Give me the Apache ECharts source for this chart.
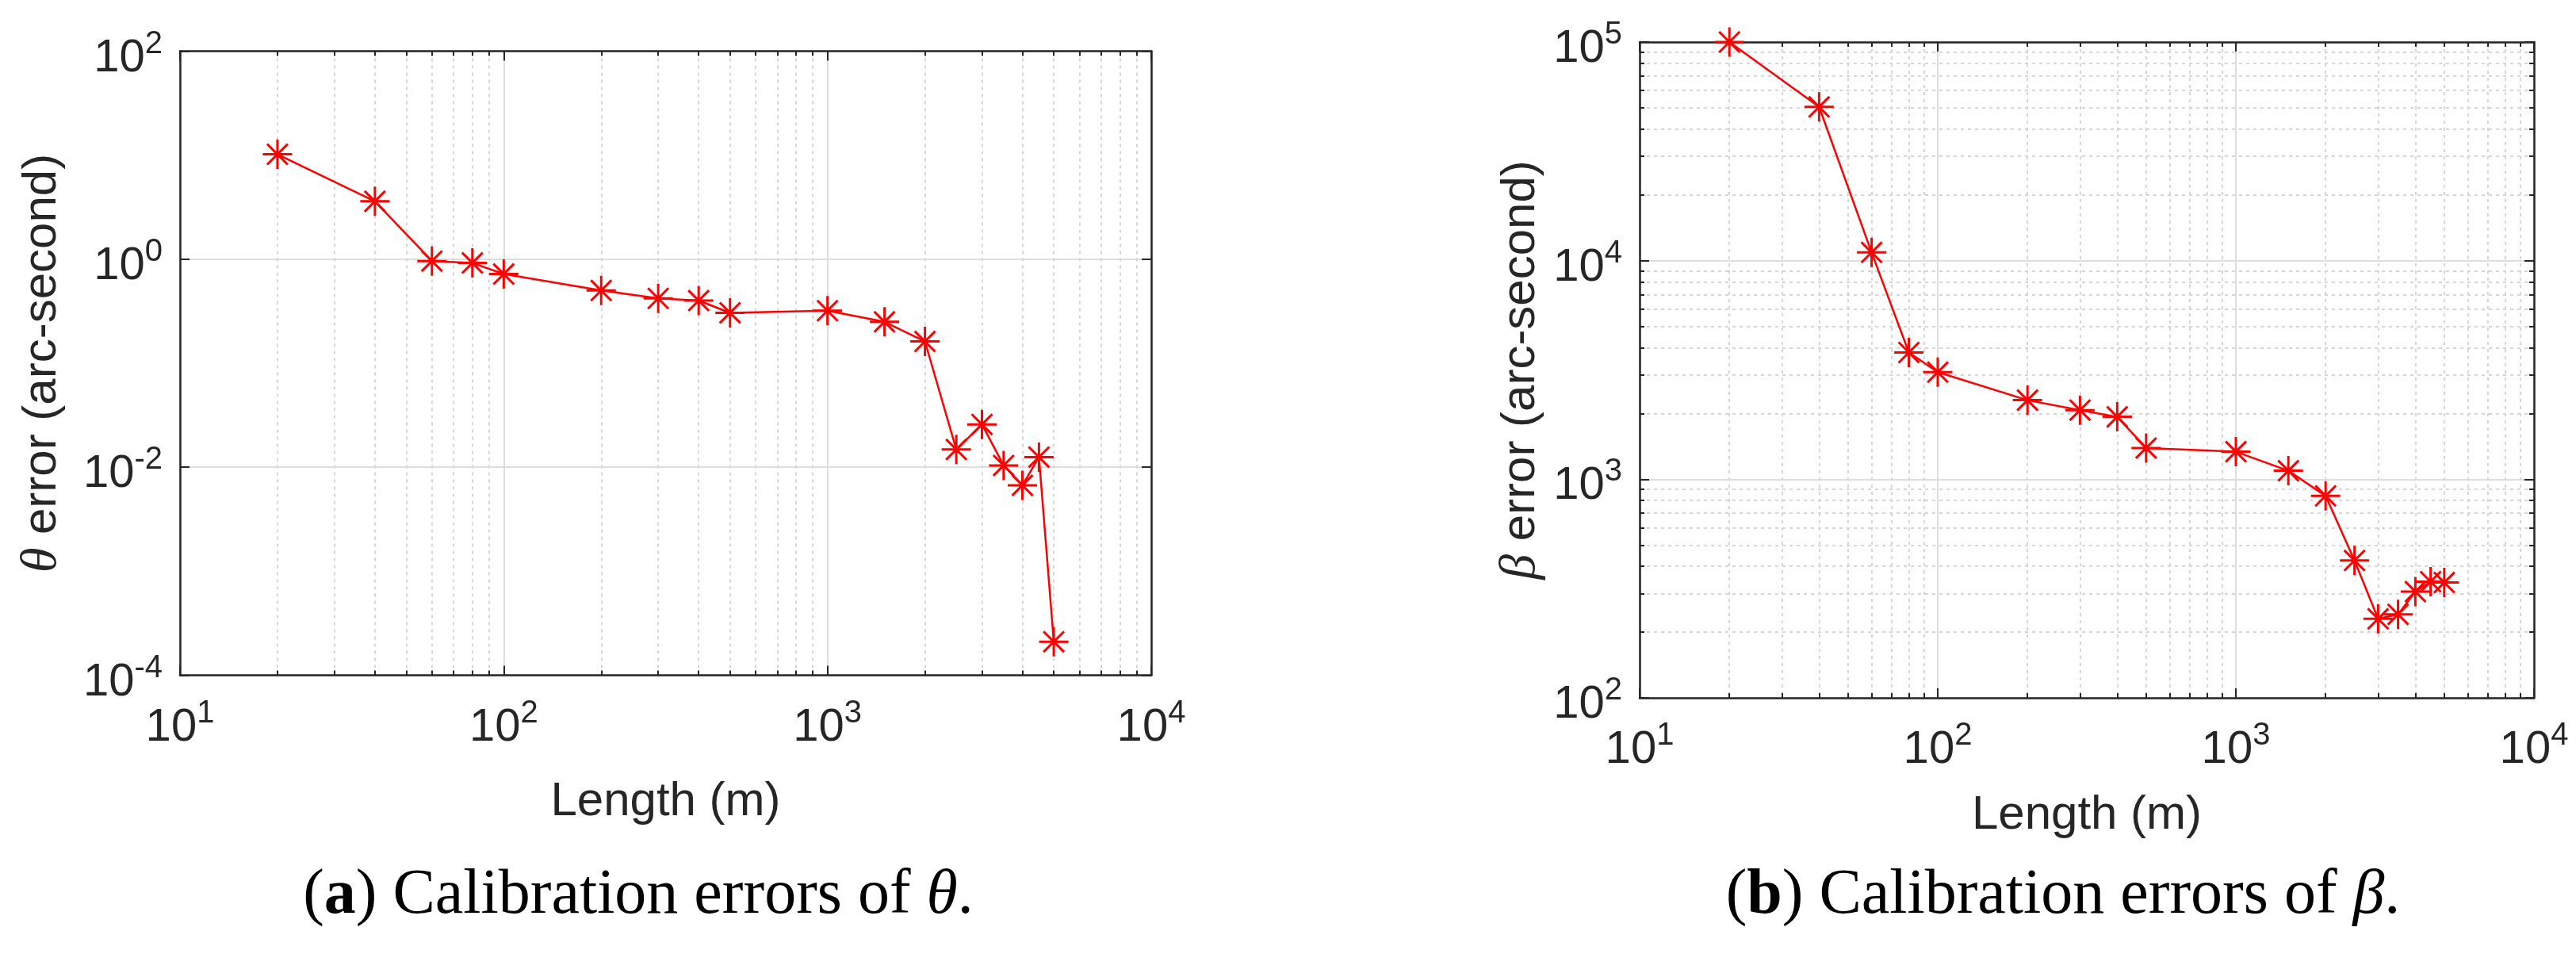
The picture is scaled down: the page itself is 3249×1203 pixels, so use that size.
<!DOCTYPE html>
<html>
<head>
<meta charset="utf-8">
<title>Calibration errors</title>
<script src="https://cdn.jsdelivr.net/npm/echarts@6/dist/echarts.min.js"></script>
<style>
  html, body { margin: 0; padding: 0; background: #fff; }
  #main { width: 3249px; height: 1203px; }
</style>
</head>
<body>
<div id="main"></div>
<script>
// data
var lengths  = [20, 40, 60, 80, 100, 200, 300, 400, 500, 1000, 1500, 2000, 2500, 3000, 3500, 4000, 4500, 5000];
var thetaErr = [10.2, 3.6, 0.96, 0.92, 0.72, 0.50, 0.42, 0.40, 0.305, 0.32, 0.25, 0.162, 0.0148, 0.0258, 0.0104, 0.0067, 0.0125, 0.00021];
var betaErr  = [100000, 50500, 10900, 3800, 3090, 2300, 2070, 1930, 1390, 1337, 1094, 839, 425, 230, 241, 306, 340, 337];

// axis ranges
var xRange     = [10, 10000];
var thetaRange = [1e-4, 1e2];
var betaRange  = [1e2, 1e5];

var myChart = echarts.init(document.getElementById('main'));

var axisColor = '#262626';
var sans = '"Liberation Sans", Arial, sans-serif';
var serif = '"Liberation Serif", "Times New Roman", serif';
var red = '#ff0000';

// 10^n label
function powLabel(v) {
    var e = Math.round(Math.log10(v));
    return '{b|10}{s|' + e + '}';
}
var powRich = {
    b: { fontSize: 58, fontFamily: sans, color: axisColor, lineHeight: 58, padding: [18, 0, 0, 0] },
    s: { fontSize: 40, fontFamily: sans, color: axisColor, lineHeight: 40, verticalAlign: 'top' }
};

var majorGrid = { show: true, lineStyle: { color: '#dedede', width: 2 } };
var minorGrid = { show: true, lineStyle: { color: '#d6d6d6', width: 2, type: [4, 5] } };

function makeAxis(grid, range, pos, main, base, minor) {
    return {
        type: 'log',
        gridIndex: grid,
        position: pos,
        logBase: base,
        min: range[0],
        max: range[1],
        axisLine: { show: true, onZero: false, lineStyle: { color: axisColor, width: 2.5 } },
        axisTick: { show: true, inside: true, length: 12, lineStyle: { color: axisColor, width: 2 } },
        minorTick: { show: minor, splitNumber: 9, length: 6, lineStyle: { color: axisColor, width: 2 } },
        axisLabel: {
            show: main,
            margin: pos === 'bottom' ? 28 : 22,
            formatter: powLabel,
            rich: powRich,
            showMinLabel: true,
            showMaxLabel: true
        },
        splitLine: main ? majorGrid : { show: false },
        minorSplitLine: (main && minor) ? minorGrid : { show: false }
    };
}

var xNameStyle = { fontSize: 60, fontFamily: sans, color: axisColor };
function yNameStyle() {
    return {
        fontSize: 60, fontFamily: sans, color: axisColor,
        rich: { i: { fontSize: 64, fontFamily: serif, fontStyle: 'italic', color: axisColor } }
    };
}

var xA0 = makeAxis(0, xRange, 'bottom', true, 10, true);
xA0.name = 'Length (m)'; xA0.nameLocation = 'middle'; xA0.nameGap = 130; xA0.nameTextStyle = xNameStyle;
var xA2 = makeAxis(1, xRange, 'bottom', true, 10, true);
xA2.name = 'Length (m)'; xA2.nameLocation = 'middle'; xA2.nameGap = 118; xA2.nameTextStyle = xNameStyle;

var yA0 = makeAxis(0, thetaRange, 'left', true, 100, false);
yA0.name = '{i|θ} error (arc-second)'; yA0.nameLocation = 'middle'; yA0.nameGap = 142; yA0.nameRotate = 90;
yA0.nameTextStyle = yNameStyle();
var yA2 = makeAxis(1, betaRange, 'left', true, 10, true);
yA2.name = '{i|β} error (arc-second)'; yA2.nameLocation = 'middle'; yA2.nameGap = 118; yA2.nameRotate = 90;
yA2.nameTextStyle = yNameStyle();

function pairs(xs, ys) {
    return xs.map(function (x, i) { return [x, ys[i]]; });
}

// MATLAB style '*' marker
var starSymbol = 'path://M10,0L10,20M0,10L20,10M3,3L17,17M3,17L17,3';

function lineSeries(xi, yi, ys) {
    return {
        type: 'line',
        xAxisIndex: xi,
        yAxisIndex: yi,
        data: pairs(lengths, ys),
        symbol: starSymbol,
        symbolSize: 37,
        showSymbol: true,
        showAllSymbol: true,
        lineStyle: { color: red, width: 2.5 },
        itemStyle: { color: red, borderColor: red, borderWidth: 3 },
        clip: false,
        z: 5
    };
}

var captionRich = {
    bd: { fontSize: 80, fontFamily: serif, fontWeight: 'bold', fill: '#000' },
    it: { fontSize: 80, fontFamily: serif, fontStyle: 'italic', fill: '#000' }
};

var option = {
    backgroundColor: '#fff',
    animation: false,
    grid: [
        { left: 227, top: 64.5, width: 1225, height: 787 },
        { left: 2068, top: 53, width: 1128, height: 827 }
    ],
    xAxis: [
        xA0,
        makeAxis(0, xRange, 'top', false, 10, true),
        xA2,
        makeAxis(1, xRange, 'top', false, 10, true)
    ],
    yAxis: [
        yA0,
        makeAxis(0, thetaRange, 'right', false, 100, false),
        yA2,
        makeAxis(1, betaRange, 'right', false, 10, true)
    ],
    series: [
        lineSeries(0, 0, thetaErr),
        lineSeries(2, 2, betaErr)
    ],
    graphic: [
        {
            type: 'text', x: 805, y: 1130,
            style: {
                text: '({bd|a}) Calibration errors of {it|θ}.',
                font: '80px ' + serif, fill: '#000',
                align: 'center', verticalAlign: 'middle',
                rich: captionRich
            }
        },
        {
            type: 'text', x: 2602, y: 1130,
            style: {
                text: '({bd|b}) Calibration errors of {it|β}.',
                font: '80px ' + serif, fill: '#000',
                align: 'center', verticalAlign: 'middle',
                rich: captionRich
            }
        }
    ]
};

myChart.setOption(option);
</script>
</body>
</html>
